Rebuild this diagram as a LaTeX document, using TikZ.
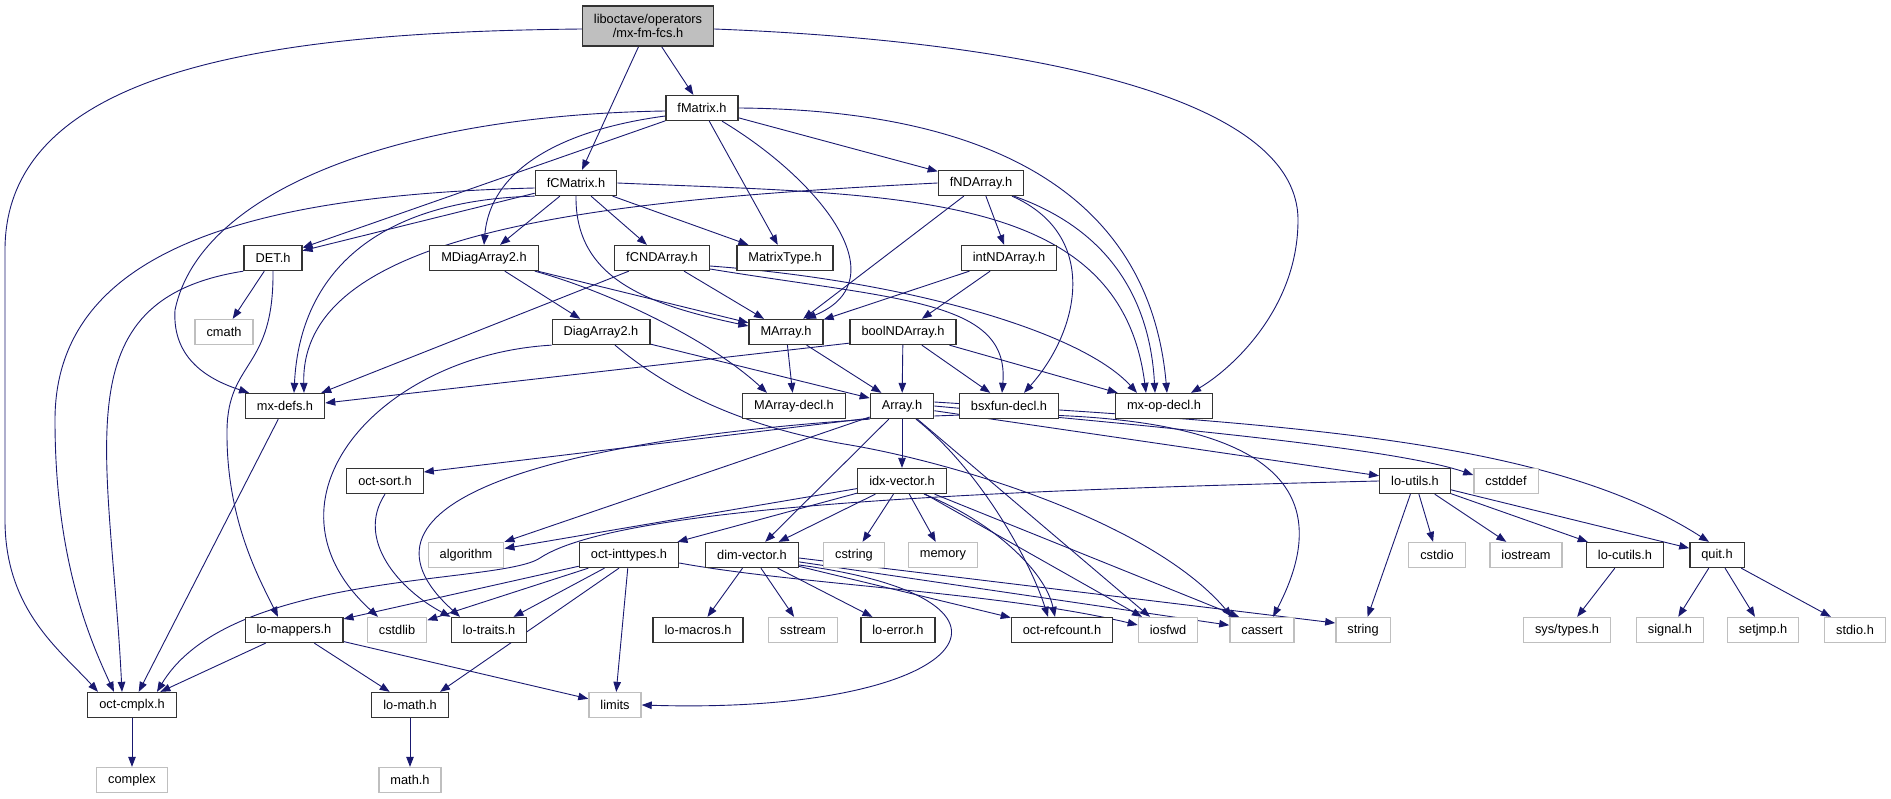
\documentclass[tikz,border=0pt]{standalone}
\usepackage{fontspec}
\setmainfont{Liberation Sans}
\usetikzlibrary{arrows.meta, backgrounds}
\definecolor{edgeblue}{HTML}{191970}
\definecolor{sysgray}{HTML}{BFBFBF}

\begin{document}
\begin{tikzpicture}[x=1pt, y=-1pt, >={Triangle[length=10pt, width=7.5pt]}]
	\tikzstyle{hdr} = [draw=black!80, line width=1.3pt, fill=white, font=\fontsize{12.8}{14.5}\selectfont, minimum height=25pt, inner xsep=11.5pt, inner ysep=0pt]
	\tikzstyle{sys} = [hdr, draw=sysgray]
	\tikzstyle{root} = [hdr, fill=sysgray, align=center, minimum height=40pt]
	\tikzstyle{inc} = [->, color=edgeblue, line width=0.9pt]

	\useasboundingbox (0, 0) rectangle (1891, 799);

	% headers, row by row
	\node[root] at (648, 26) (top) {liboctave/operators\\/mx-fm-fcs.h};
	\node[hdr] at (702, 108) (fMatrix) {fMatrix.h};
	\node[hdr] at (576, 183) (fCMatrix) {fCMatrix.h};
	\node[hdr] at (981, 183) (fNDArray) {fNDArray.h};
	\node[hdr] at (273, 258) (DET) {DET.h};
	\node[hdr] at (484, 258) (MDiagArray2) {MDiagArray2.h};
	\node[hdr] at (662, 258) (fCNDArray) {fCNDArray.h};
	\node[hdr] at (785, 258) (MatrixType) {MatrixType.h};
	\node[hdr] at (1009, 258) (intNDArray) {intNDArray.h};
	\node[sys] at (224, 332) (cmath) {cmath};
	\node[hdr] at (601, 332) (DiagArray2) {DiagArray2.h};
	\node[hdr] at (786, 332) (MArray) {MArray.h};
	\node[hdr] at (903, 332) (boolNDArray) {boolNDArray.h};
	\node[hdr] at (285, 406) (mxdefs) {mx-defs.h};
	\node[hdr] at (794, 406) (MArraydecl) {MArray-decl.h};
	\node[hdr] at (902, 406) (Array) {Array.h};
	\node[hdr] at (1009, 406) (bsxfundecl) {bsxfun-decl.h};
	\node[hdr] at (1164, 406) (mxopdecl) {mx-op-decl.h};
	\node[hdr] at (385, 481) (octsort) {oct-sort.h};
	\node[hdr] at (902, 481) (idxvector) {idx-vector.h};
	\node[hdr] at (1415, 481) (loutils) {lo-utils.h};
	\node[sys] at (1506, 481) (cstddef) {cstddef};
	\node[sys] at (466, 555) (algorithm) {algorithm};
	\node[hdr] at (629, 555) (octinttypes) {oct-inttypes.h};
	\node[hdr] at (752, 555) (dimvector) {dim-vector.h};
	\node[sys] at (854, 555) (cstring) {cstring};
	\node[sys] at (943, 555) (memory) {memory};
	\node[sys] at (1437, 555) (cstdio) {cstdio};
	\node[sys] at (1526, 555) (iostream) {iostream};
	\node[hdr] at (1625, 555) (locutils) {lo-cutils.h};
	\node[hdr] at (1717, 555) (quit) {quit.h};
	\node[hdr] at (294, 630) (lomappers) {lo-mappers.h};
	\node[sys] at (397, 630) (cstdlib) {cstdlib};
	\node[hdr] at (489, 630) (lotraits) {lo-traits.h};
	\node[hdr] at (698, 630) (lomacros) {lo-macros.h};
	\node[sys] at (803, 630) (sstream) {sstream};
	\node[hdr] at (898, 630) (loerror) {lo-error.h};
	\node[hdr] at (1062, 630) (octrefcount) {oct-refcount.h};
	\node[sys] at (1168, 630) (iosfwd) {iosfwd};
	\node[sys] at (1262, 630) (cassert) {cassert};
	\node[sys] at (1363, 630) (string) {string};
	\node[sys] at (1567, 630) (systypes) {sys/types.h};
	\node[sys] at (1670, 630) (signal) {signal.h};
	\node[sys] at (1763, 630) (setjmp) {setjmp.h};
	\node[sys] at (1855, 630) (stdio) {stdio.h};
	\node[hdr] at (132, 705) (octcmplx) {oct-cmplx.h};
	\node[hdr] at (410, 705) (lomath) {lo-math.h};
	\node[sys] at (615, 705) (limits) {limits};
	\node[sys] at (132, 780) (complex) {complex};
	\node[sys] at (410, 780) (mathh) {math.h};

	\begin{pgfonlayer}{background}
	% straight includes
	\path[inc]
	(top) edge (fMatrix)
	(top) edge (fCMatrix)
	(fMatrix) edge (DET)
	(fMatrix) edge (MatrixType)
	(fMatrix) edge (fNDArray)
	(fCMatrix) edge (DET)
	(fCMatrix) edge (MDiagArray2)
	(fCMatrix) edge (fCNDArray)
	(fCMatrix) edge (MatrixType)
	(fNDArray) edge (MArray)
	(fNDArray) edge (intNDArray)
	(DET) edge (cmath)
	(MDiagArray2) edge (DiagArray2)
	(MDiagArray2) edge (MArray)
	(fCNDArray) edge ([xshift=-4pt]mxdefs.north east)
	(fCNDArray) edge (MArray)
	(intNDArray) edge (MArray)
	(intNDArray) edge (boolNDArray)
	(DiagArray2) edge (Array)
	(MArray) edge (MArraydecl)
	(MArray) edge (Array)
	([yshift=2pt]boolNDArray.south west) edge ([yshift=3pt]mxdefs.east)
	(boolNDArray) edge (Array)
	(boolNDArray) edge (bsxfundecl)
	(boolNDArray) edge (mxopdecl)
	(mxdefs) edge (octcmplx)
	([yshift=1pt]Array.south west) edge ([yshift=9pt]octsort.east)
	(Array) edge (algorithm)
	(Array) edge (dimvector)
	(Array) edge (idxvector)
	(Array) edge ([xshift=-18pt]iosfwd.north)
	(Array) edge (loutils)
	(idxvector) edge (algorithm)
	(idxvector) edge (octinttypes)
	(idxvector) edge (dimvector)
	(idxvector) edge (cstring)
	(idxvector) edge (memory)
	(idxvector) edge ([xshift=-26pt]iosfwd.north)
	(idxvector) edge ([xshift=-23pt]cassert.north)
	(octinttypes) edge (lomappers)
	(octinttypes) edge (cstdlib)
	(octinttypes) edge (lotraits)
	([xshift=-10pt]octinttypes.south) edge ([xshift=30pt]lomath.north)
	(octinttypes) edge (limits)
	(dimvector) edge (lomacros)
	(dimvector) edge (sstream)
	(dimvector) edge (loerror)
	(dimvector) edge (octrefcount)
	(dimvector) edge (cassert)
	([yshift=-3pt]dimvector.east) edge ([yshift=7pt]string.west)
	(loutils) edge (string)
	(loutils) edge (cstdio)
	(loutils) edge (iostream)
	(loutils) edge (locutils)
	(loutils) edge (quit)
	(locutils) edge (systypes)
	(quit) edge (signal)
	(quit) edge (setjmp)
	(quit) edge (stdio)
	(lomappers) edge (octcmplx)
	(lomappers) edge (lomath)
	(lomappers) edge (limits)
	(octcmplx) edge (complex)
	(lomath) edge (mathh);

	% routed includes
	\draw[inc] ([yshift=-3pt]top.west) .. controls (300, 32) and (5, 60) .. (5, 250) -- (5, 520) .. controls (5, 610) and (60, 650) .. ([xshift=-34pt]octcmplx.north);
	\draw[inc] ([yshift=-3pt]top.east) .. controls (1000, 40) and (1298, 90) .. (1298, 220) .. controls (1298, 310) and (1230, 370) .. ([xshift=27pt]mxopdecl.north);
	\draw[inc] ([yshift=-3pt]fMatrix.west) .. controls (400, 115) and (200, 190) .. (175, 310) .. controls (172, 360) and (210, 380) .. ([xshift=-36pt]mxdefs.north);
	\draw[inc] ([yshift=-8pt]fMatrix.west) .. controls (560, 130) and (490, 170) .. (MDiagArray2.north);
	\draw[inc] ([xshift=20pt]fMatrix.south) .. controls (820, 180) and (900, 280) .. ([xshift=20pt]MArray.north);
	\draw[inc] (fMatrix.east) .. controls (1000, 110) and (1150, 200) .. ([xshift=3pt]mxopdecl.north);
	\draw[inc] ([yshift=-5pt]fCMatrix.west) .. controls (250, 195) and (55, 250) .. (55, 420) .. controls (55, 560) and (90, 640) .. ([xshift=-18pt]octcmplx.north);
	\draw[inc] (fCMatrix.south west) .. controls (380, 200) and (300, 270) .. ([xshift=9pt]mxdefs.north);
	\draw[inc] (fCMatrix.south) .. controls (575, 280) and (650, 305) .. ([yshift=6pt]MArray.west);
	\draw[inc] (fCMatrix.east) .. controls (900, 195) and (1120, 190) .. ([xshift=-18pt]mxopdecl.north);
	\draw[inc] (fNDArray.west) .. controls (600, 200) and (300, 230) .. ([xshift=19pt]mxdefs.north);
	\draw[inc] ([xshift=31pt]fNDArray.south) .. controls (1100, 235) and (1080, 330) .. ([xshift=15pt]bsxfundecl.north);
	\draw[inc] ([xshift=33pt]fNDArray.south) .. controls (1110, 230) and (1150, 300) .. ([xshift=-9pt]mxopdecl.north);
	\draw[inc] ([yshift=-11pt]fCNDArray.east) .. controls (900, 300) and (1010, 300) .. ([xshift=-7pt]bsxfundecl.north);
	\draw[inc] ([yshift=-8pt]fCNDArray.east) .. controls (900, 280) and (1080, 330) .. ([xshift=-27pt]mxopdecl.north);
	\draw[inc] ([xshift=-4pt]MDiagArray2.south east) .. controls (610, 292) and (710, 340) .. ([xshift=-27pt]MArraydecl.north);
	\draw[inc] (DET.south) .. controls (274, 370) and (228, 360) .. (227, 430) .. controls (226, 520) and (260, 580) .. ([xshift=-16pt]lomappers.north);
	\draw[inc] (DET.south west) .. controls (60, 300) and (110, 450) .. ([xshift=-10pt]octcmplx.north);
	\draw[inc] (DiagArray2.south west) .. controls (380, 355) and (250, 500) .. ([xshift=-19pt]cstdlib.north);
	\draw[inc] ([xshift=14pt]DiagArray2.south) .. controls (680, 400) and (760, 430) .. (850, 445) .. controls (950, 462) and (1150, 520) .. ([xshift=-30pt]cassert.north);
	\draw[inc] (Array.south west) .. controls (560, 440) and (330, 500) .. ([xshift=-29pt]lotraits.north);
	\draw[inc] ([xshift=14pt]Array.south) .. controls (980, 470) and (1030, 560) .. ([xshift=-14pt]octrefcount.north);
	\draw[inc] ([yshift=-10pt]Array.east) .. controls (1200, 405) and (1360, 450) .. ([xshift=11pt]cassert.north);
	\draw[inc] (Array.east) .. controls (1200, 430) and (1400, 450) .. ([yshift=6pt]cstddef.west);
	\draw[inc] ([yshift=4pt]Array.east) .. controls (1300, 425) and (1550, 440) .. ([xshift=-8pt]quit.north);
	\draw[inc] ([xshift=22pt]idxvector.south) .. controls (990, 520) and (1045, 570) .. ([xshift=-7pt]octrefcount.north);
	\draw[inc] ([yshift=-8pt]octinttypes.east) .. controls (800, 585) and (1000, 592) .. ([yshift=5pt]iosfwd.west);
	\draw[inc] ([yshift=-10pt]dimvector.east) .. controls (1060, 600) and (970, 715) .. (limits.east);
	\draw[inc] (octsort.south) .. controls (355, 540) and (400, 590) .. (lotraits.north west);
	\draw[inc] (loutils.west) .. controls (1000, 490) and (620, 505) .. (540, 558) .. controls (500, 585) and (230, 570) .. ([xshift=25pt]octcmplx.north);
	\end{pgfonlayer}
\end{tikzpicture}
\end{document}
